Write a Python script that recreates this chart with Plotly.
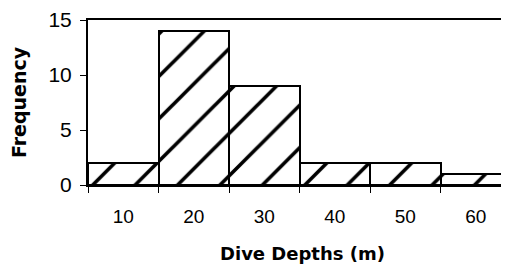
import plotly.graph_objects as go

depths = [10, 20, 30, 40, 50, 60]
frequency = [2, 14, 9, 2, 2, 1]
y_ticks = [0, 5, 10, 15]

fig = go.Figure(go.Bar(
    x=depths, y=frequency, width=10,
    marker=dict(color="white", line=dict(color="black", width=2),
                pattern=dict(shape="/", fgcolor="black", bgcolor="white", fgopacity=1,
                             size=30, solidity=0.12)),
))

font = "Liberation Sans, Arial, sans-serif"
title_font = "DejaVu Sans, Verdana, sans-serif"
fig.update_layout(
    width=509, height=269,
    margin=dict(l=80, r=0, t=12, b=92),
    paper_bgcolor="white", plot_bgcolor="white",
    showlegend=False, bargap=0,
    font=dict(family=font, size=19, color="black"),
)
fig.update_xaxes(
    range=[5, 65.85], tickvals=depths, ticks="", showgrid=False, zeroline=False,
    showline=True, linecolor="black", linewidth=2, mirror=True, automargin=False,
    minor=dict(tick0=5, dtick=10, ticks="outside", ticklen=6, tickcolor="black", showgrid=False),
    tickfont=dict(size=19), ticklabelstandoff=13,
    title=dict(text="<b>Dive Depths (m)</b>", font=dict(family=title_font, size=18), standoff=22),
)
fig.update_yaxes(
    range=[0, 15], tickvals=y_ticks, ticks="outside", ticklen=6, tickcolor="black",
    showgrid=False, zeroline=False, showline=True, linecolor="black", linewidth=2,
    automargin=False, ticklabelstandoff=4,
    tickfont=dict(size=21),
    title=dict(text="<b>Frequency</b>", font=dict(family=title_font, size=19), standoff=17),
)
fig.write_html("out.html")
